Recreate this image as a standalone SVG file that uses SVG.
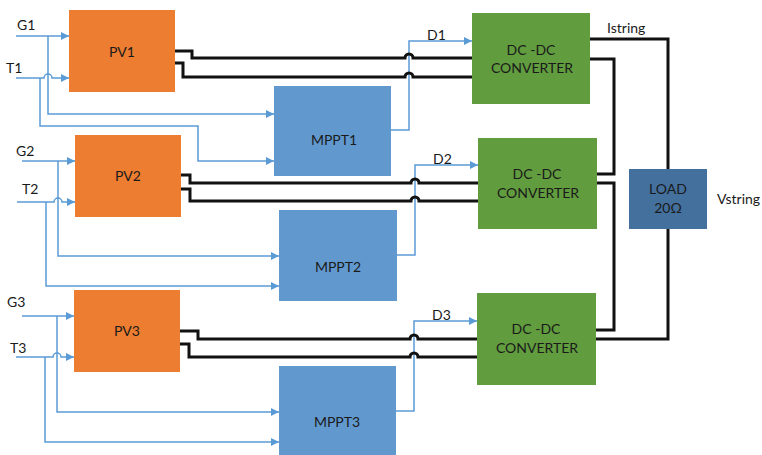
<svg xmlns="http://www.w3.org/2000/svg" width="762" height="455" viewBox="0 0 762 455">
  <defs>
    <marker id="arr" viewBox="0 0 10 10" refX="10" refY="5" markerWidth="9" markerHeight="8" markerUnits="userSpaceOnUse" orient="auto">
      <path d="M0,0 L10,5 L0,10 Z" fill="#5B9BD5"/>
    </marker>
    <style>
      text { font-family: Lato, "Open Sans", "Liberation Sans", sans-serif; font-size: 14px; fill: #1a1a1a; }
      .mid { text-anchor: middle; }
      .pv { fill: #ED7D31; }
      .mppt { fill: #6199CF; }
      .dc { fill: #619C3F; }
      .load { fill: #43709D; }
      .sig { fill: none; stroke: #5B9BD5; stroke-width: 1.5; }
      .sig.a { marker-end: url(#arr); }
      .pwr { fill: none; stroke: #111; stroke-width: 3; stroke-linejoin: miter; }
    </style>
  </defs>
  <rect width="762" height="455" fill="#fff"/>

  <!-- input labels -->
  <g id="labels">
    <text x="17" y="30">G1</text>
    <text x="6" y="73">T1</text>
    <text x="16" y="156">G2</text>
    <text x="22" y="194">T2</text>
    <text x="7" y="307">G3</text>
    <text x="10" y="353">T3</text>
    <text x="427" y="40">D1</text>
    <text x="433" y="164">D2</text>
    <text x="432" y="320">D3</text>
    <text x="607" y="33">Istring</text>
    <text x="717" y="204">Vstring</text>
  </g>

  <!-- PV arrays -->
  <g id="pv1"><rect class="pv" x="69" y="10" width="106" height="82"/><text class="mid" x="122" y="57">PV1</text></g>
  <g id="pv2"><rect class="pv" x="75" y="135" width="106" height="82"/><text class="mid" x="128" y="181">PV2</text></g>
  <g id="pv3"><rect class="pv" x="74" y="290" width="106" height="82"/><text class="mid" x="127" y="336">PV3</text></g>

  <!-- MPPT controllers -->
  <g id="mppt1"><rect class="mppt" x="274" y="86" width="117" height="90"/><text class="mid" x="334" y="145">MPPT1</text></g>
  <g id="mppt2"><rect class="mppt" x="279" y="210" width="118" height="91"/><text class="mid" x="338" y="272">MPPT2</text></g>
  <g id="mppt3"><rect class="mppt" x="279" y="366" width="117" height="95"/><text class="mid" x="337" y="427">MPPT3</text></g>

  <!-- DC-DC converters -->
  <g id="dc1"><rect class="dc" x="472" y="13" width="118" height="91"/><text class="mid" x="531" y="55">DC -DC</text><text class="mid" x="532" y="73">CONVERTER</text></g>
  <g id="dc2"><rect class="dc" x="478" y="138" width="119" height="91"/><text class="mid" x="537" y="179">DC -DC</text><text class="mid" x="538" y="198">CONVERTER</text></g>
  <g id="dc3"><rect class="dc" x="477" y="293" width="119" height="92"/><text class="mid" x="536" y="334">DC -DC</text><text class="mid" x="537" y="353">CONVERTER</text></g>

  <!-- load -->
  <g id="load"><rect class="load" x="629" y="169" width="78" height="60"/><text class="mid" x="668" y="194">LOAD</text><text class="mid" x="668" y="213">20Ω</text></g>

  <g id="connectors">
    <!-- irradiance / temperature inputs -->
    <path class="sig a" d="M16,36 H69"/>
    <path class="sig a" d="M48,36 V114 H274"/>
    <path class="sig a" d="M16,78 H44 A4,4 0 0 1 52,78 H69"/>
    <path class="sig a" d="M40,78 V126 H198 V161 H274"/>

    <path class="sig a" d="M22,161 H75"/>
    <path class="sig a" d="M58,161 V256 H279"/>
    <path class="sig a" d="M17,202 H54 A4,4 0 0 1 62,202 H75"/>
    <path class="sig a" d="M46,202 V286 H279"/>

    <path class="sig a" d="M22,316 H74"/>
    <path class="sig a" d="M57,316 V412 H279"/>
    <path class="sig a" d="M16,357 H53 A4,4 0 0 1 61,357 H74"/>
    <path class="sig a" d="M45,357 V442 H279"/>

    <!-- duty cycle outputs -->
    <path class="sig a" d="M391,130 H409 V41 H472"/>
    <path class="sig a" d="M397,255 H415 V165 H478"/>
    <path class="sig a" d="M396,411 H414 V321 H477"/>

    <!-- PV power lines -->
    <path class="pwr" d="M175,51 H192 V58 H405 A4,4 0 0 1 413,58 H472"/>
    <path class="pwr" d="M175,63 H183 V77 H405 A4,4 0 0 1 413,77 H472"/>
    <path class="pwr" d="M181,175 H190 V183 H411 A4,4 0 0 1 419,183 H478"/>
    <path class="pwr" d="M181,189 H190 V201 H411 A4,4 0 0 1 419,201 H478"/>
    <path class="pwr" d="M180,331 H198 V339 H410 A4,4 0 0 1 418,339 H477"/>
    <path class="pwr" d="M180,344 H189 V357 H410 A4,4 0 0 1 418,357 H477"/>

    <!-- series string to load -->
    <path class="pwr" d="M590,39 H668 V169"/>
    <path class="pwr" d="M590,59 H614 V174 H597"/>
    <path class="pwr" d="M597,183 H614 V330 H596"/>
    <path class="pwr" d="M596,339 H668 V229"/>
  </g>
</svg>
